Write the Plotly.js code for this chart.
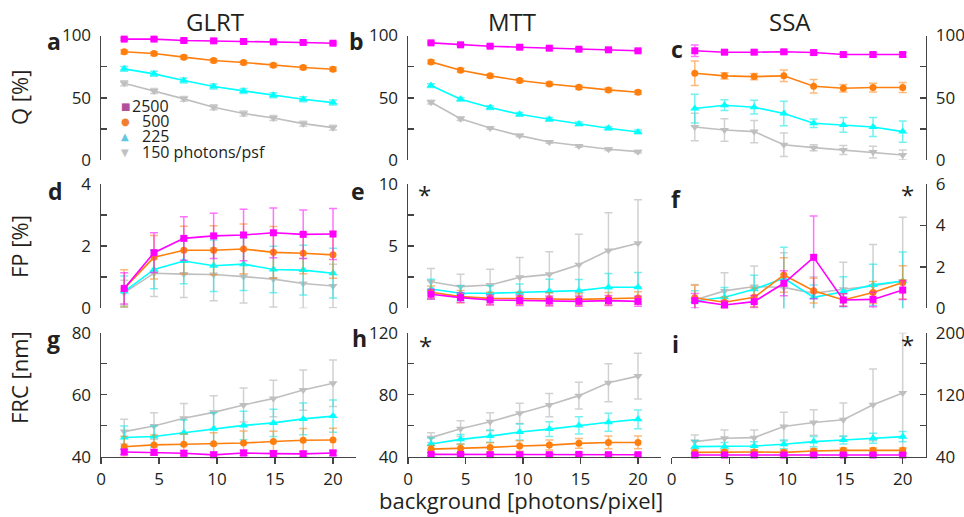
<!DOCTYPE html>
<html><head><meta charset="utf-8">
<script src="https://cdn.plot.ly/plotly-3.0.1.min.js"></script>
<style>html,body{margin:0;padding:0;background:#fff}</style>
</head><body><div id="chart" style="width:964px;height:517px"></div>
<script>
// background [photons/pixel]
const background = [2, 4.57, 7.14, 9.71, 12.29, 14.86, 17.43, 20];
const seriesNames = ['2500', '500', '225', '150 photons/psf'];
const methods = ['GLRT', 'MTT', 'SSA'];
const rowTitles = ['Q [%]', 'FP [%]', 'FRC [nm]'];
const panelLetters = ['a','b','c','d','e','f','g','h','i'];

// Q [%]  rows: 2500, 500, 225, 150
const qGLRT = [[97.1,97.1,96.0,95.7,95.2,94.9,94.4,93.8],[86.9,85.5,82.6,79.9,78.3,76.1,74.3,72.9],[73.2,69.2,63.8,59.0,55.5,52.0,48.8,46.1],[61.7,55.5,49.1,42.4,37.3,33.8,29.2,26.0]];
const qGLRTErr = [[1,1,1,1,1,1,1,1],[1.5,1.5,1.5,1.5,1.5,1.5,1.5,1.5],[2,2,2,2,2,2,2,2],[2,2,2,2,2,2,2,2]];
const qMTT = [[94.1,92.5,91.4,90.6,89.8,89.0,88.5,87.7],[78.8,72.1,67.6,63.8,61.1,58.4,56.3,54.4],[59.8,48.8,42.1,36.7,32.7,29.0,25.5,22.5],[46.4,33.2,25.7,19.6,14.5,11.3,8.6,6.7]];
const qMTTErr = [[1,1,1,1,1,1,1,1],[1.5,1.5,1.5,1.5,1.5,1.5,1.5,1.5],[1.5,1.5,1.5,1.5,1.5,1.5,1.5,1.5],[1.5,1.5,1,1,1,1,1,1]];
const qSSA = [[87.7,86.6,86.6,86.9,86.3,84.7,84.7,84.7],[69.7,67.6,67.0,67.6,59.2,57.6,58.2,58.2],[41.3,44.0,42.4,37.3,29.5,28.2,26.5,22.8],[26.5,24.1,22.8,12.3,9.9,8.0,6.4,4.0]];
const qSSAErr = [[4.6,1.5,1.5,1.5,1.5,1.5,1.5,1.5],[9.8,2.5,2.5,4.6,5.4,3,3.5,4],[11.5,4.3,5.5,9.8,3.4,6,7.6,8.6],[11,9,9,9.4,2.4,3.6,4.7,4]];

// FP [%]
const fpGLRT = [[0.64,1.79,2.25,2.33,2.36,2.43,2.38,2.39],[0.64,1.64,1.87,1.87,1.91,1.80,1.77,1.72],[0.54,1.25,1.52,1.37,1.42,1.25,1.23,1.13],[0.50,1.13,1.10,1.09,1.02,0.94,0.80,0.72]];
const fpGLRTErr = [[0.5,0.64,0.7,0.73,0.83,0.8,0.78,0.82],[0.6,0.7,0.77,0.79,0.8,0.83,0.66,0.75],[0.5,0.62,0.73,0.83,0.85,0.75,0.8,0.8],[0.4,0.75,0.75,0.85,0.85,0.9,0.8,0.7]];
const fpMTT = [[1.13,0.86,0.67,0.62,0.59,0.56,0.62,0.56],[1.29,0.94,0.80,0.80,0.75,0.72,0.78,0.83],[1.55,1.21,1.21,1.26,1.37,1.42,1.69,1.69],[2.14,1.74,1.88,2.49,2.73,3.51,4.64,5.23]];
const fpMTTErr = [[0.4,0.4,0.4,0.4,0.4,0.4,0.4,0.4],[0.5,0.5,0.5,0.5,0.5,0.5,0.5,0.5],[0.78,0.6,0.6,0.7,0.97,0.9,1.1,1.2],[1.07,1.0,1.26,1.6,1.82,2.44,3.05,3.5]];
const fpSSA = [[0.37,0.16,0.32,1.21,2.46,0.40,0.43,0.88],[0.51,0.29,0.53,1.61,0.85,0.40,0.76,1.25],[0.35,0.53,0.92,1.45,0.53,0.80,1.13,1.32],[0.40,0.84,1.05,1.01,0.72,0.92,1.08,1.32]];
const fpSSAErr = [[0.35,0.2,0.3,0.6,2.0,0.3,0.35,0.45],[0.6,0.25,0.45,0.83,0.6,0.3,0.53,0.8],[0.5,0.47,0.68,1.5,0.6,0.72,1.0,1.4],[0.75,0.88,0.99,1.67,0.8,1.3,2.0,3.07]];

// FRC [nm]
const frcGLRT = [[41.5,41.4,41.1,40.6,41.2,41.0,40.9,41.2],[43.2,43.8,44.0,44.2,44.4,44.9,45.3,45.4],[46.2,46.5,47.7,49.0,50.1,50.9,52.2,53.1],[48.1,49.9,52.4,54.3,56.7,58.8,61.5,63.7]];
const frcGLRTErr = [[0.9,0.9,0.9,0.9,0.9,0.9,0.9,0.9],[3.4,3.2,3.3,3.5,3.9,3.3,3.8,3.8],[3.7,3.4,4.1,5.2,4.6,4.4,5.1,5.2],[4.0,4.3,4.8,5.4,5.5,5.9,6.5,7.5]];
const frcMTT = [[41.5,41.5,41.3,41.3,41.3,41.5,41.3,41.3],[44.9,45.4,46.0,46.9,47.5,48.6,49.2,49.2],[48.2,51.2,53.3,55.9,57.8,60.2,62.2,64.1],[52.3,58.1,62.6,68.0,73.3,79.4,87.7,92.0]];
const frcMTTErr = [[1,1,1,1,1,1,1,1],[2.4,2.8,3.0,3.4,3.2,3.2,4.1,4.1],[3.9,3.2,3.9,5.2,4.7,5.6,5.8,6.0],[3.2,5.1,5.8,6.5,7.5,8.6,12.3,14.8]];
const frcSSA = [[42.2,42.2,42.2,42.2,42.2,42.2,42.2,42.2],[45.6,46.1,46.1,45.6,47.4,48.2,48.2,48.2],[53.0,53.0,53.8,56.0,59.5,61.6,63.8,65.9],[59.5,63.8,64.6,78.9,84.1,87.6,107.0,122.2]];
const frcSSAErr = [[1.5,1.5,1.5,1.5,1.5,1.5,1.5,1.5],[3,3,3,3,3,3,3,3],[7.8,5.2,5.6,5.6,6.5,5.2,6.5,6.5],[8.6,10.8,9.9,18.6,16.4,21.6,46.3,77.8]];

// axis ranges and ticks per panel
const yRanges = [[0,100],[0,100],[0,100],[0,4],[0,10],[0,6],[40,80],[40,120],[40,200]];
const yTickVals = [[0,25,50,75,100],[0,25,50,75,100],[0,25,50,75,100],[0,1,2,3,4],[0,2.5,5,7.5,10],[0,2,4,6],[40,50,60,70,80],[40,60,80,100,120],[40,80,120,160,200]];
const yTickText = [['0','','50','','100'],['0','','50','','100'],['0','','50','','100'],['0','','2','','4'],['0','','5','','10'],['0','2','4','6'],['40','','60','','80'],['40','','80','','120'],['40','','120','','200']];
const xTickVals = [0,5,10,15,20];

const panelData = [qGLRT,qMTT,qSSA,fpGLRT,fpMTT,fpSSA,frcGLRT,frcMTT,frcSSA];
const panelErr = [qGLRTErr,qMTTErr,qSSAErr,fpGLRTErr,fpMTTErr,fpSSAErr,frcGLRTErr,frcMTTErr,frcSSAErr];

const colors = ['#ff00ff','#ff7f0e','#00ffff','#bfbfbf'];
const errColors = ['rgba(255,0,255,0.55)','rgba(255,127,14,0.55)','rgba(0,230,230,0.55)','rgba(190,190,190,0.7)'];
const symbols = ['square','circle','triangle-up','triangle-down'];
const markerSizes = [7, 7, 8, 8];

const W = 964, H = 517;
const px = v => v / W, py = v => 1 - v / H;
const colDom = [[101,356.2],[408,661],[671.7,925.8]];
const rowDom = [[35.5,160],[184,308.3],[332.7,456.7]];
const FONT = 'Open Sans, Noto Sans, sans-serif';
const TXT = '#231f20';

const traces = [];
const layout = {
  width: W, height: H, margin: {l:0,r:0,t:0,b:0},
  paper_bgcolor: '#fff', plot_bgcolor: 'rgba(0,0,0,0)',
  showlegend: false, font: {family: FONT, color: TXT, size: 16},
  annotations: []
};

for (let p = 0; p < 9; p++) {
  const r = Math.floor(p / 3), c = p % 3;
  const n = p === 0 ? '' : String(p + 1);
  for (let s = 3; s >= 0; s--) {
    traces.push({
      type: 'scatter', mode: 'lines+markers',
      x: background, y: panelData[p][s],
      xaxis: 'x' + n, yaxis: 'y' + n,
      name: seriesNames[s],
      line: {color: colors[s], width: 1.6},
      marker: {color: colors[s], symbol: symbols[s], size: markerSizes[s]},
      error_y: {type: 'data', array: panelErr[p][s], visible: true, color: errColors[s], thickness: 1.5, width: 4},
      cliponaxis: false
    });
  }
  const bottom = r === 2;
  layout['xaxis' + n] = {
    domain: [px(colDom[c][0]), px(colDom[c][1])], range: [0, 22], anchor: 'y' + n,
    showgrid: false, zeroline: false, visible: bottom,
    showline: bottom, linecolor: '#444', linewidth: 1.5,
    ticks: bottom ? 'outside' : '', ticklen: 6, tickwidth: 1.5, tickcolor: '#444',
    tickvals: xTickVals, showticklabels: bottom,
    tickfont: {family: FONT, size: 17, color: TXT}
  };
  layout['yaxis' + n] = {
    domain: [py(rowDom[r][1]), py(rowDom[r][0])], range: yRanges[p], anchor: 'x' + n,
    side: c === 2 ? 'right' : 'left',
    showgrid: false, zeroline: false, showline: true, linecolor: '#444', linewidth: 1.5,
    ticks: 'inside', ticklen: 6, tickwidth: 1.5, tickcolor: '#444',
    tickvals: yTickVals[p], ticktext: yTickText[p], ticklabelstandoff: 5,
    tickfont: {family: FONT, size: 17, color: TXT}
  };
}

// column titles
const colTitlePos = [215, 512, 790];
methods.forEach((m, i) => layout.annotations.push({
  text: m, x: px(colTitlePos[i]), y: py(22), xref: 'paper', yref: 'paper',
  showarrow: false, font: {family: FONT, size: 24, color: TXT}, xanchor: 'center', yanchor: 'middle'
}));
// row titles
const rowTitlePos = [98, 247, 378];
rowTitles.forEach((t, i) => layout.annotations.push({
  text: t, x: px(19), y: py(rowTitlePos[i]), xref: 'paper', yref: 'paper', textangle: -90,
  showarrow: false, font: {family: FONT, size: 22, color: TXT}, xanchor: 'center', yanchor: 'middle'
}));
// panel letters
const letterPos = [[54,41],[356,41],[677,49],[55,191],[358,191],[676,199],[53,339],[359,338],[675,344]];
panelLetters.forEach((l, i) => layout.annotations.push({
  text: '<b>' + l + '</b>', x: px(letterPos[i][0]), y: py(letterPos[i][1]), xref: 'paper', yref: 'paper',
  showarrow: false, font: {family: FONT, size: 23, color: TXT}, xanchor: 'center', yanchor: 'middle'
}));
// asterisks
const starPos = [[424,176],[907,176],[425,327],[907,326]];
starPos.forEach(sp => layout.annotations.push({
  text: '*', x: px(sp[0]), y: py(sp[1]), xref: 'paper', yref: 'paper',
  showarrow: false, font: {family: FONT, size: 24, color: TXT}, xanchor: 'center', yanchor: 'top'
}));
// x axis title
layout.annotations.push({
  text: 'background [photons/pixel]', x: px(521), y: py(517), xref: 'paper', yref: 'paper',
  showarrow: false, font: {family: FONT, size: 22, color: TXT}, xanchor: 'center', yanchor: 'bottom'
});
// legend (panel a)
const legendGlyphs = ['■','●','▲','▼'];
const legendGlyphColors = ['#b0509c','#f08030','#60c8e0','#c0c0c0'];
const legendY = [106, 121, 136, 152];
seriesNames.forEach((s, i) => {
  layout.annotations.push({
    text: legendGlyphs[i], x: px(125), y: py(legendY[i]), xref: 'paper', yref: 'paper',
    showarrow: false, font: {family: 'DejaVu Sans', size: 10, color: legendGlyphColors[i]}, xanchor: 'center', yanchor: 'middle'
  });
  layout.annotations.push({
    text: s, x: px(i === 0 ? 131 : 141), y: py(legendY[i]), xref: 'paper', yref: 'paper',
    showarrow: false, font: {family: FONT, size: 16, color: TXT}, xanchor: 'left', yanchor: 'middle',
    borderpad: 0
  });
});

Plotly.newPlot('chart', traces, layout, {staticPlot: true, displayModeBar: false});
</script></body></html>
